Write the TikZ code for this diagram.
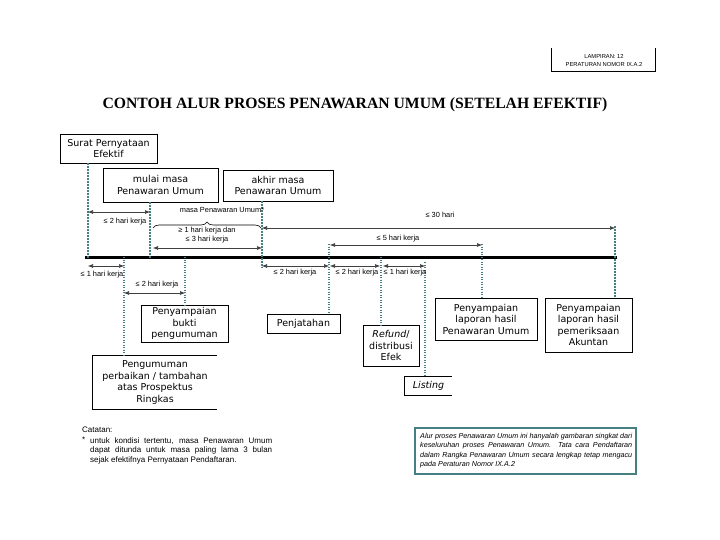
\documentclass[tikz,border=0pt]{standalone}
\usepackage{fontspec}
\setmainfont{Liberation Sans}
\newfontfamily\boxfont{DejaVu Sans}
\newfontfamily\titlefont{Liberation Serif}
\usetikzlibrary{arrows.meta,decorations.pathreplacing}
\definecolor{tealc}{RGB}{70,128,130}
\begin{document}
\begin{tikzpicture}[x=1pt,y=-1pt,
  box/.style={draw, line width=0.8pt, font=\boxfont\fontsize{9.5}{11.5}\selectfont, align=center, inner sep=0pt},
  openbox/.style={font=\boxfont\fontsize{9.5}{11.5}\selectfont, align=center, inner sep=0pt},
  tealdash/.style={draw=tealc, line width=2.6pt, dash pattern=on 2pt off 1pt},
  tealdot/.style={draw=tealc, line width=1.5pt, dash pattern=on 1.3pt off 1.2pt},
  dim/.style={{Latex[length=5pt,width=4pt]}-{Latex[length=5pt,width=4pt]}, line width=0.6pt, draw=black!75},
  lab/.style={font=\fontsize{7.4}{8.8}\selectfont, inner sep=0pt, align=center}]
\useasboundingbox (0,0) rectangle (720,540);
\fill[white] (0,0) rectangle (720,540);

% header box
\node[font=\fontsize{5.8}{8}\selectfont, align=center, inner sep=0pt] (lamp) at (604,61) {LAMPIRAN: 12\\PERATURAN NOMOR IX.A.2};
\draw[line width=0.7pt] (551,48) -- (551,71) -- (655,71) -- (655,48);

% title
\node[font=\titlefont\bfseries\fontsize{15.7}{18}\selectfont, inner sep=0pt] (title) at (355,105) {CONTOH ALUR PROSES PENAWARAN UMUM (SETELAH EFEKTIF)};

% boxes
\node[box, minimum width=97pt, minimum height=29pt] (surat) at (108.5,148.5) {Surat Pernyataan\\Efektif};
\node[box, minimum width=115pt, minimum height=34pt] (mulai) at (160.5,185) {mulai masa\\Penawaran Umum};
\node[box, minimum width=110pt, minimum height=31pt] (akhir) at (278,185.5) {akhir masa\\Penawaran Umum};
\node[box, minimum width=87pt, minimum height=37pt] (bukti) at (184.5,323.5) {Penyampaian\\bukti\\pengumuman};
\node[openbox, minimum width=124pt, minimum height=53pt] (peng) at (155,382.5) {Pengumuman\\perbaikan / tambahan\\atas Prospektus\\Ringkas};
\draw[line width=0.8pt] (peng.north east) -- (peng.north west) -- (peng.south west) -- (peng.south east);
\node[box, minimum width=73pt, minimum height=19pt] (jatah) at (303.5,323.5) {Penjatahan};
\node[box, minimum width=56pt, minimum height=41pt] (refund) at (391,345.5) {\textit{Refund}/\\distribusi\\Efek};
\node[openbox, minimum width=47pt, minimum height=19pt] (listing) at (428.5,386) {\textit{Listing}};
\draw[line width=0.8pt] (listing.north east) -- (listing.north west) -- (listing.south west) -- (listing.south east);
\node[box, minimum width=102pt, minimum height=42pt] (hasil) at (486,319) {Penyampaian\\laporan hasil\\Penawaran Umum};
\node[box, minimum width=87pt, minimum height=54pt] (akuntan) at (588.5,325) {Penyampaian\\laporan hasil\\pemeriksaan\\Akuntan};

% axis
\coordinate (ax0) at (85,257);
\coordinate (ax1) at (617,257);
\draw[line width=3pt] (ax0) -- (ax1);

% vertical lines
\coordinate (v1) at (88,258);
\coordinate (v2) at (150,258);
\coordinate (v3) at (262,268);
\coordinate (v4top) at (615,226);
\coordinate (d1top) at (124,257);
\coordinate (d2top) at (185,257);
\coordinate (d3top) at (329,244);
\coordinate (d4top) at (381,257);
\coordinate (d5top) at (425,262);
\coordinate (d6top) at (482,244);
\draw[tealdash] (surat.south -| v1) -- (v1);
\draw[tealdash] (mulai.south -| v2) -- (v2);
\draw[tealdash] (akhir.south -| v3) -- (v3);
\draw[tealdash] (v4top) -- (akuntan.north -| v4top);
\draw[tealdot] (d1top) -- (peng.north -| d1top);
\draw[tealdot] (d2top) -- (bukti.north -| d2top);
\draw[tealdot] (d3top) -- (jatah.north -| d3top);
\draw[tealdot] (d4top) -- (refund.north -| d4top);
\draw[tealdot] (d5top) -- (listing.north -| d5top);
\draw[tealdot] (d6top) -- (hasil.north -| d6top);

% dimension arrows
\coordinate (a1s) at (88,212); \coordinate (a1e) at (150,212);
\draw[dim] (a1s) -- (a1e);
\node[lab] (l1) at (125,222) {≤ 2 hari kerja};

\draw[decorate, decoration={brace, amplitude=6pt}, line width=0.6pt] (153,228) -- (261,228);
\node[lab] (lmasa) at (222,210) {masa Penawaran Umum*};

\coordinate (a2s) at (153,248); \coordinate (a2e) at (262,248);
\draw[dim] (a2s) -- (a2e);
\node[lab] (l2) at (207,235) {≥ 1 hari kerja dan\\≤ 3 hari kerja};

\coordinate (a3s) at (262,228); \coordinate (a3e) at (615,228);
\draw[dim] (a3s) -- (a3e);
\node[lab] (l3) at (440,215) {≤ 30 hari};

\coordinate (a4s) at (88,266); \coordinate (a4e) at (124,266);
\draw[dim] (a4s) -- (a4e);
\node[lab] (l4) at (102,275) {≤ 1 hari kerja};

\coordinate (a5s) at (124,293); \coordinate (a5e) at (185,293);
\draw[dim] (a5s) -- (a5e);
\node[lab] (l5) at (157,285) {≤ 2 hari kerja};

\coordinate (a6s) at (262,266); \coordinate (a6e) at (329,266);
\draw[dim] (a6s) -- (a6e);
\node[lab] (l6) at (295,273) {≤ 2 hari kerja};

\coordinate (a7s) at (330,266); \coordinate (a7e) at (380,266);
\draw[dim] (a7s) -- (a7e);
\node[lab] (l7) at (357,273) {≤ 2 hari kerja};

\coordinate (a8s) at (383,266); \coordinate (a8e) at (425,266);
\draw[dim] (a8s) -- (a8e);
\node[lab] (l8) at (405,273) {≤ 1 hari kerja};

\coordinate (a9s) at (330,245); \coordinate (a9e) at (482,245);
\draw[dim] (a9s) -- (a9e);
\node[lab] (l9) at (398,239) {≤ 5 hari kerja};

% notes
\node[font=\fontsize{8}{10}\selectfont, anchor=north west, inner sep=0pt] (cat) at (82,427) {Catatan:};
\node[font=\fontsize{8}{10}\selectfont, anchor=north west, inner sep=0pt] (star) at (82,437) {*};
\node[font=\fontsize{8}{10}\selectfont, anchor=north west, inner sep=0pt, align=left] (note) at (90,437)
 {\makebox[182pt][s]{untuk kondisi tertentu, masa Penawaran Umum}\\
  \makebox[182pt][s]{dapat ditunda untuk masa paling lama 3 bulan}\\
  sejak efektifnya Pernyataan Pendaftaran.};

\draw[draw=tealc, line width=2.5pt] (415,428) rectangle (636,474);
\node[font=\itshape\fontsize{7.2}{9.4}\selectfont, anchor=north west, inner sep=0pt, align=left] (ket) at (420,433)
 {\makebox[212pt][s]{Alur proses Penawaran Umum ini hanyalah gambaran singkat dari}\\
  \makebox[212pt][s]{keseluruhan proses Penawaran Umum. Tata cara Pendaftaran}\\
  \makebox[212pt][s]{dalam Rangka Penawaran Umum secara lengkap tetap mengacu}\\
  pada Peraturan Nomor IX.A.2};
\end{tikzpicture}
\end{document}
